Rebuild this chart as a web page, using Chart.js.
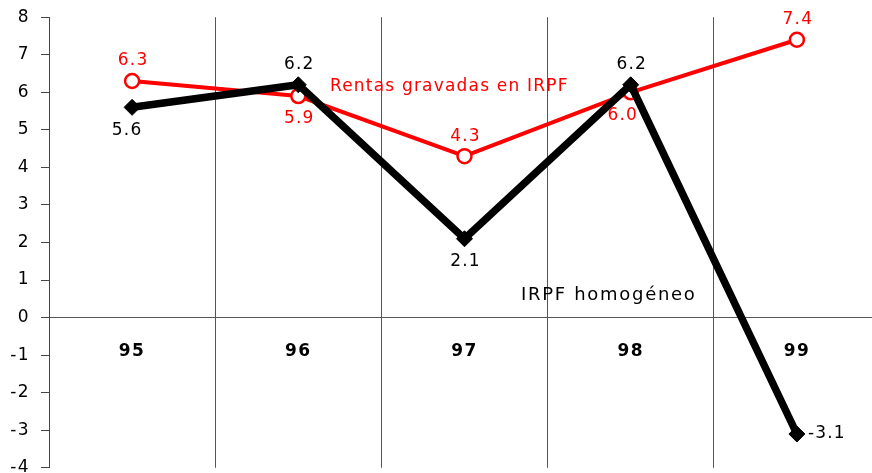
<!DOCTYPE html>
<html lang="es">
<head>
<meta charset="utf-8">
<script src="https://cdn.jsdelivr.net/npm/chart.js@4/dist/chart.umd.min.js"></script>
<style>
  html, body { margin: 0; padding: 0; overflow: hidden; background: #fff; }
  #grafico { display: block; margin-top: -4px; }
</style>
</head>
<body>
<canvas id="grafico" width="890" height="493"></canvas>
<script>
// Datos
const anios = ["95", "96", "97", "98", "99"];
const rentasGravadas = [6.3, 5.9, 4.3, 6.0, 7.4];
const irpfHomogeneo = [5.6, 6.2, 2.1, 6.2, -3.1];
const ejeYMin = -4;
const ejeYMax = 8;

const fuente = "'DejaVu Sans', Verdana, sans-serif";

// Donde va cada etiqueta de valor respecto a su punto
const lugarRentas = ["arriba", "abajo", "arriba", "abajo", "arriba"];
const lugarIrpf = ["abajo", "arriba", "abajo", "arriba", "derecha"];

// Espaciado de letras para todo el texto del grafico
const espaciado = {
  id: "espaciado",
  beforeDraw(chart) { chart.ctx.letterSpacing = "1.4px"; }
};

// Etiquetas de valores y textos de series
const etiquetas = {
  id: "etiquetas",
  afterDatasetsDraw(chart) {
    const { ctx, scales } = chart;
    ctx.save();
    ctx.font = "17px " + fuente;
    ctx.letterSpacing = "1.2px";
    chart.data.datasets.forEach((ds, i) => {
      const meta = chart.getDatasetMeta(i);
      ctx.fillStyle = ds.borderColor;
      meta.data.forEach((pt, j) => {
        const txt = ds.data[j].toFixed(1);
        const lugar = ds.lugares[j];
        ctx.textBaseline = "middle";
        if (lugar === "derecha") {
          ctx.textAlign = "left";
          ctx.fillText(txt, pt.x + 11, pt.y);
        } else {
          ctx.textAlign = "center";
          const dy = lugar === "arriba" ? -20 : 23;
          const dx = (i === 0 && j === 3) ? -8 : (i === 1 && j === 0 ? -5 : 1);
          ctx.fillText(txt, pt.x + dx, pt.y + dy);
        }
      });
    });
    // nombres de las series
    ctx.textAlign = "left";
    ctx.textBaseline = "middle";
    ctx.fillStyle = "#ff0000";
    ctx.fillText("Rentas gravadas en IRPF", scales.x.getPixelForValue(1.19), scales.y.getPixelForValue(6.14));
    ctx.fillStyle = "#000";
    ctx.font = "18px " + fuente;
    ctx.letterSpacing = "1.7px";
    ctx.fillText("IRPF homogéneo", scales.x.getPixelForValue(2.34), scales.y.getPixelForValue(0.59));
    ctx.restore();
  }
};

const chart = new Chart(document.getElementById("grafico"), {
  type: "line",
  data: {
    labels: anios,
    datasets: [
      {
        label: "Rentas gravadas en IRPF",
        data: rentasGravadas,
        lugares: lugarRentas,
        borderColor: "#ff0000",
        borderWidth: 4,
        pointStyle: "circle",
        pointRadius: 7,
        pointBorderWidth: 2.5,
        pointBackgroundColor: "#fff",
        pointBorderColor: "#ff0000",
        tension: 0,
        order: 2
      },
      {
        label: "IRPF homogéneo",
        data: irpfHomogeneo,
        lugares: lugarIrpf,
        borderColor: "#000",
        borderWidth: 7.5,
        pointStyle: "rectRot",
        pointRadius: 8,
        pointBorderWidth: 1,
        pointBackgroundColor: "#000",
        pointBorderColor: "#000",
        tension: 0,
        order: 1
      }
    ]
  },
  options: {
    responsive: false,
    animation: false,
    layout: { padding: { top: 13, bottom: 13, right: 10, left: 0 } },
    plugins: { legend: { display: false }, tooltip: { enabled: false } },
    scales: {
      x: {
        position: { y: 0 },
        offset: true,
        grid: { offset: true, color: "#555", lineWidth: 1, drawTicks: false },
        border: { color: "#555", width: 1 },
        ticks: { color: "#000", padding: 24, font: { family: fuente, size: 17, weight: "bold" } }
      },
      y: {
        min: ejeYMin,
        max: ejeYMax,
        afterFit: s => { s.width = 49; },
        grid: { drawOnChartArea: false, tickLength: 8, color: "#444" },
        border: { color: "#444", width: 1 },
        ticks: { stepSize: 1, color: "#000", padding: 11, font: { family: fuente, size: 17 } }
      }
    }
  },
  plugins: [espaciado, etiquetas]
});
</script>
</body>
</html>
